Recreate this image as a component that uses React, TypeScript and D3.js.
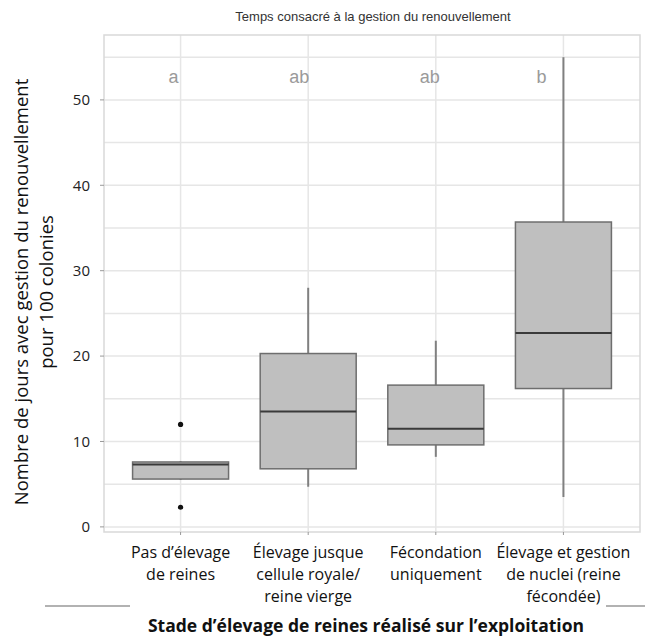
import React from "react";
import * as d3 from "d3";

const categories: string[][] = [
  ["Pas d’élevage", "de reines"],
  ["Élevage jusque", "cellule royale/", "reine vierge"],
  ["Fécondation", "uniquement"],
  ["Élevage et gestion", "de nuclei (reine", "fécondée)"],
];
const whiskerLow = [5.5, 4.7, 8.2, 3.5];
const q1 = [5.6, 6.8, 9.6, 16.2];
const median = [7.3, 13.5, 11.5, 22.7];
const q3 = [7.6, 20.3, 16.6, 35.7];
const whiskerHigh = [7.7, 28.0, 21.8, 55.0];
const outliers: [number, number][] = [
  [0, 12.0],
  [0, 2.3],
];
const letters = ["a", "ab", "ab", "b"];
const letterOffsets = [-7, -9, -6, -22];
const yTicks = [0, 10, 20, 30, 40, 50];
const yGrid = [0, 5, 10, 15, 20, 25, 30, 35, 40, 45, 50, 55];

const W = 645;
const H = 639;
const left = 104;
const right = 640;
const top = 35;
const bottom = 532;

export default function App() {
  const x = d3.scaleLinear().domain([0.4, 4.6]).range([left, right]);
  const y = d3.scaleLinear().domain([-0.6, 57.6]).range([bottom, top]);
  const half = 48;
  const font = "'Liberation Sans', Arial, sans-serif";
  const labelFont = "'Open Sans', 'Liberation Sans', sans-serif";
  return (
    <svg
      width={W}
      height={H}
      style={{ position: "absolute", left: 0, top: 0, background: "#fff" }}
    >
      <text
        x={373}
        y={21}
        textAnchor="middle"
        fontFamily={font}
        fontSize={13}
        fill="#333"
      >
        Temps consacré à la gestion du renouvellement
      </text>
      {/* grid */}
      {yGrid.map((v) => (
        <line
          key={"g" + v}
          x1={left}
          x2={right}
          y1={y(v)}
          y2={y(v)}
          stroke="#e6e6e6"
          strokeWidth={1.5}
        />
      ))}
      {categories.map((_, i) => (
        <line
          key={"vg" + i}
          x1={x(i + 1)}
          x2={x(i + 1)}
          y1={top}
          y2={bottom}
          stroke="#e6e6e6"
          strokeWidth={1.5}
        />
      ))}
      <rect
        x={left}
        y={top}
        width={right - left}
        height={bottom - top}
        fill="none"
        stroke="#d9d9d9"
        strokeWidth={1.5}
      />
      {/* y ticks */}
      {yTicks.map((v) => (
        <g key={"t" + v}>
          <line x1={left - 4} x2={left} y1={y(v)} y2={y(v)} stroke="#999" />
          <text
            x={left - 14}
            y={y(v)}
            dy="0.35em"
            textAnchor="end"
            fontFamily={labelFont}
            fontSize={15}
            fill="#222"
          >
            {v}
          </text>
        </g>
      ))}
      {/* x ticks */}
      {categories.map((_, i) => (
        <line
          key={"xt" + i}
          x1={x(i + 1)}
          x2={x(i + 1)}
          y1={bottom}
          y2={bottom + 3}
          stroke="#999"
        />
      ))}
      {/* boxes */}
      {categories.map((_, i) => {
        const cx = x(i + 1);
        return (
          <g key={"b" + i}>
            <line
              x1={cx}
              x2={cx}
              y1={y(whiskerHigh[i])}
              y2={y(q3[i])}
              stroke="#808080"
              strokeWidth={2}
            />
            <line
              x1={cx}
              x2={cx}
              y1={y(q1[i])}
              y2={y(whiskerLow[i])}
              stroke="#808080"
              strokeWidth={2}
            />
            <rect
              x={cx - half}
              y={y(q3[i])}
              width={half * 2}
              height={y(q1[i]) - y(q3[i])}
              fill="#bfbfbf"
              stroke="#6e6e6e"
              strokeWidth={1.5}
            />
            <line
              x1={cx - half}
              x2={cx + half}
              y1={y(median[i])}
              y2={y(median[i])}
              stroke="#3a3a3a"
              strokeWidth={2}
            />
            <text
              x={cx + letterOffsets[i]}
              y={y(52.7)}
              dy="0.35em"
              textAnchor="middle"
              fontFamily={font}
              fontSize={18}
              fill="#9a9a9a"
            >
              {letters[i]}
            </text>
          </g>
        );
      })}
      {outliers.map(([ci, v], k) => (
        <circle key={"o" + k} cx={x(ci + 1)} cy={y(v)} r={2.6} fill="#111" />
      ))}
      {/* category labels */}
      {categories.map((lines, i) => (
        <text
          key={"c" + i}
          x={x(i + 1)}
          textAnchor="middle"
          fontFamily={labelFont}
          fontSize={16}
          fill="#111"
        >
          {lines.map((l, j) => (
            <tspan key={j} x={x(i + 1)} y={558 + j * 22}>
              {l}
            </tspan>
          ))}
        </text>
      ))}
      {/* y axis label */}
      <text
        transform="translate(22,292) rotate(-90)"
        textAnchor="middle"
        fontFamily={labelFont}
        fontSize={18.5}
        fill="#111"
      >
        <tspan x={0} y={0} dy="0.35em">
          Nombre de jours avec gestion du renouvellement
        </tspan>
        <tspan x={0} y={25} dy="0.35em">
          pour 100 colonies
        </tspan>
      </text>
      {/* decorative lines */}
      <line x1={45} x2={130} y1={606} y2={606} stroke="#999" strokeWidth={1.5} />
      <line x1={606} x2={645} y1={606} y2={606} stroke="#999" strokeWidth={1.5} />
      <text
        x={366}
        y={632}
        textAnchor="middle"
        fontFamily={labelFont}
        fontWeight="bold"
        fontSize={17.5}
        fill="#111"
      >
        Stade d’élevage de reines réalisé sur l’exploitation
      </text>
    </svg>
  );
}
